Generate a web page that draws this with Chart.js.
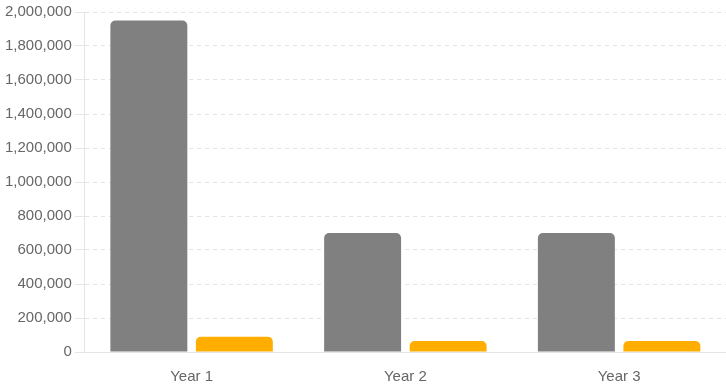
<!DOCTYPE html>
<html>
<head>
<meta charset="utf-8">
<script src="https://cdn.jsdelivr.net/npm/chart.js@4"></script>
<style>
  html, body { margin: 0; padding: 0; background: #fff; }
  #wrap { width: 726px; height: 387px; }
</style>
</head>
<body>
<div id="wrap"><canvas id="chart"></canvas></div>
<script>
const years = ['Year 1', 'Year 2', 'Year 3'];
const greySeries = [1950000, 700000, 700000];
const orangeSeries = [90000, 65000, 65000];

Chart.defaults.font.family = '"Liberation Sans", Arial, sans-serif';
Chart.defaults.font.size = 15;
Chart.defaults.color = '#666';

const ctx = document.getElementById('chart').getContext('2d');
new Chart(ctx, {
    type: 'bar',
    data: {
        labels: years,
        datasets: [{
            label: 'Grey',
            data: greySeries,
            backgroundColor: '#808080',
            borderRadius: 5,
            borderSkipped: 'bottom'
        }, {
            label: 'Orange',
            data: orangeSeries,
            backgroundColor: '#ffae00',
            borderRadius: 5,
            borderSkipped: 'bottom'
        }]
    },
    options: {
        responsive: true,
        maintainAspectRatio: false,
        animation: false,
        layout: { padding: { top: 6, left: 2, bottom: -7 } },
        plugins: {
            legend: { display: false },
            tooltip: { enabled: false }
        },
        scales: {
            x: {
                grid: { display: false },
                border: { color: '#e5e5e5' },
                ticks: { padding: 8 }
            },
            y: {
                min: 0,
                max: 2000000,
                ticks: {
                    stepSize: 200000,
                    callback: value => value.toLocaleString('en-US')
                },
                grid: { color: '#e5e5e5', tickLength: 10 },
                border: { color: '#e5e5e5', dash: [4, 4] }
            }
        }
    }
});
</script>
</body>
</html>
